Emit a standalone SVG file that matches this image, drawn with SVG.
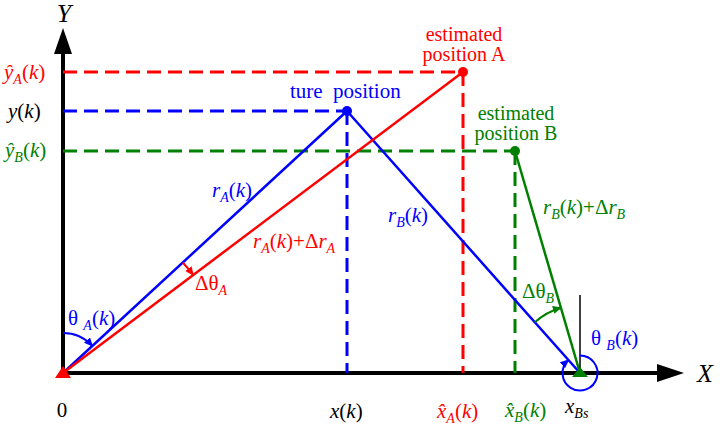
<svg xmlns="http://www.w3.org/2000/svg" width="720" height="429" viewBox="0 0 720 429">
<defs>
<marker id="mb" markerUnits="userSpaceOnUse" markerWidth="9" markerHeight="8" refX="8" refY="4" orient="auto"><path d="M0,0 L9,4 L0,8 z" fill="#0000ff"/></marker>
<marker id="mr" markerUnits="userSpaceOnUse" markerWidth="9" markerHeight="8" refX="8" refY="4" orient="auto"><path d="M0,0 L9,4 L0,8 z" fill="#ff0000"/></marker>
<marker id="mg" markerUnits="userSpaceOnUse" markerWidth="9" markerHeight="8" refX="8" refY="4" orient="auto"><path d="M0,0 L9,4 L0,8 z" fill="#008000"/></marker>
</defs>
<rect width="720" height="429" fill="#fff"/>

<g id="axes">
<line x1="63" y1="375" x2="63" y2="52" stroke="#000" stroke-width="4"/>
<polygon points="63,28 54,54 72,54" fill="#000"/>
<line x1="61" y1="373" x2="660" y2="373" stroke="#000" stroke-width="4"/>
<polygon points="684,373 657,364 657,382" fill="#000"/>
<text font-family="Liberation Serif" font-size="26" font-style="italic" fill="#000" x="64" y="22" text-anchor="middle">Y</text>
<text font-family="Liberation Serif" font-size="26" font-style="italic" fill="#000" x="697" y="382">X</text>
<text font-family="Liberation Serif" font-size="21" fill="#000" x="62" y="417" text-anchor="middle">0</text>
</g>

<g id="connectors" fill="none">
<g stroke-width="3" stroke-dasharray="14 7">
<line stroke="#ff0000" x1="63" y1="72" x2="463" y2="72"/>
<line stroke="#0000ff" x1="63" y1="111" x2="347" y2="111"/>
<line stroke="#008000" x1="63" y1="151" x2="515" y2="151"/>
<line stroke="#0000ff" x1="347" y1="111" x2="347" y2="373"/>
<line stroke="#ff0000" x1="463" y1="72" x2="463" y2="373"/>
<line stroke="#008000" x1="515" y1="151" x2="515" y2="373"/>
</g>
<g stroke-width="2.5">
<line stroke="#0000ff" x1="63" y1="373" x2="347" y2="111"/>
<line stroke="#0000ff" x1="347" y1="111" x2="580" y2="373"/>
<line stroke="#ff0000" x1="63" y1="373" x2="463" y2="72"/>
<line stroke="#008000" x1="515" y1="151" x2="580" y2="373"/>
</g>
<line x1="580" y1="295" x2="580" y2="373" stroke="#000" stroke-width="1.5"/>
<g stroke-width="2">
<path stroke="#0000ff" d="M63,333 A40,40 0 0,1 92.4,345.9" marker-end="url(#mb)"/>
<path stroke="#ff0000" d="M182.8,262.5 A163,163 0 0,1 193.2,275" marker-end="url(#mr)"/>
<path stroke="#008000" d="M534.8,322.2 A68,68 0 0,1 560.9,307.7" marker-end="url(#mg)"/>
<path stroke="#0000ff" d="M580,355.5 A17.5,17.5 0 1,1 568.4,359.9" marker-end="url(#mb)"/>
</g>
</g>

<g id="origin">
<polygon points="55,378 71,378 63,366" fill="#ff0000"/>
</g>

<g id="true-position">
<circle cx="347" cy="111" r="5" fill="#0000ff"/>
<text font-family="Liberation Serif" font-size="21" fill="#0000ff" x="290" y="98">ture</text>
<text font-family="Liberation Serif" font-size="21" fill="#0000ff" x="333" y="98">position</text>
</g>

<g id="estimated-A">
<circle cx="463" cy="72" r="5" fill="#ff0000"/>
<text font-family="Liberation Serif" font-size="20" fill="#ff0000" x="464" y="41" text-anchor="middle">estimated</text>
<text font-family="Liberation Serif" font-size="20" fill="#ff0000" x="464" y="61" text-anchor="middle">position A</text>
</g>

<g id="estimated-B">
<circle cx="515" cy="151" r="5" fill="#008000"/>
<text font-family="Liberation Serif" font-size="20" fill="#008000" x="516" y="120" text-anchor="middle">estimated</text>
<text font-family="Liberation Serif" font-size="20" fill="#008000" x="516" y="140" text-anchor="middle">position B</text>
</g>

<g id="station-B">
<polygon points="572,377 588,377 580,367" fill="#008000"/>
<text font-family="Liberation Serif" font-size="21" font-style="italic" fill="#000" x="565" y="413">x<tspan font-size="14" dy="5">Bs</tspan></text>
</g>

<g id="labels">
<text font-family="Liberation Serif" font-size="21" fill="#ff0000" x="4" y="79"><tspan font-style="italic">&#375;</tspan><tspan font-size="14" font-style="italic" dy="5">A</tspan><tspan dy="-5">(</tspan><tspan font-style="italic">k</tspan>)</text>
<text font-family="Liberation Serif" font-size="21" fill="#000" x="8" y="118"><tspan font-style="italic">y</tspan>(<tspan font-style="italic">k</tspan>)</text>
<text font-family="Liberation Serif" font-size="21" fill="#008000" x="5" y="157"><tspan font-style="italic">&#375;</tspan><tspan font-size="14" font-style="italic" dy="5">B</tspan><tspan dy="-5">(</tspan><tspan font-style="italic">k</tspan>)</text>
<text font-family="Liberation Serif" font-size="21" fill="#0000ff" x="212" y="197"><tspan font-style="italic">r</tspan><tspan font-size="14" font-style="italic" dy="5">A</tspan><tspan dy="-5">(</tspan><tspan font-style="italic">k</tspan>)</text>
<text font-family="Liberation Serif" font-size="21" fill="#ff0000" x="253" y="248"><tspan font-style="italic">r</tspan><tspan font-size="14" font-style="italic" dy="5">A</tspan><tspan dy="-5">(</tspan><tspan font-style="italic">k</tspan>)+&#916;<tspan font-style="italic">r</tspan><tspan font-size="14" font-style="italic" dy="5">A</tspan></text>
<text font-family="Liberation Serif" font-size="21" fill="#0000ff" x="388" y="222"><tspan font-style="italic">r</tspan><tspan font-size="14" font-style="italic" dy="5">B</tspan><tspan dy="-5">(</tspan><tspan font-style="italic">k</tspan>)</text>
<text font-family="Liberation Serif" font-size="21" fill="#008000" x="543" y="214"><tspan font-style="italic">r</tspan><tspan font-size="14" font-style="italic" dy="5">B</tspan><tspan dy="-5">(</tspan><tspan font-style="italic">k</tspan>)+&#916;<tspan font-style="italic">r</tspan><tspan font-size="14" font-style="italic" dy="5">B</tspan></text>
<text font-family="Liberation Serif" font-size="21" fill="#ff0000" x="195" y="290">&#916;&#952;<tspan font-size="14" font-style="italic" dy="5">A</tspan></text>
<text font-family="Liberation Serif" font-size="21" fill="#0000ff" x="68" y="325">&#952; <tspan font-size="14" font-style="italic" dy="5">A</tspan><tspan dy="-5">(</tspan><tspan font-style="italic">k</tspan>)</text>
<text font-family="Liberation Serif" font-size="21" fill="#008000" x="522" y="298">&#916;&#952;<tspan font-size="14" font-style="italic" dy="5">B</tspan></text>
<text font-family="Liberation Serif" font-size="21" fill="#0000ff" x="591" y="345">&#952; <tspan font-size="14" font-style="italic" dy="5">B</tspan><tspan dy="-5">(</tspan><tspan font-style="italic">k</tspan>)</text>
<text font-family="Liberation Serif" font-size="21" fill="#000" x="330" y="418"><tspan font-style="italic">x</tspan>(<tspan font-style="italic">k</tspan>)</text>
<text font-family="Liberation Serif" font-size="21" fill="#ff0000" x="437" y="418"><tspan font-style="italic">x&#770;</tspan><tspan font-size="14" font-style="italic" dy="5">A</tspan><tspan dy="-5">(</tspan><tspan font-style="italic">k</tspan>)</text>
<text font-family="Liberation Serif" font-size="21" fill="#008000" x="505" y="417"><tspan font-style="italic">x&#770;</tspan><tspan font-size="14" font-style="italic" dy="5">B</tspan><tspan dy="-5">(</tspan><tspan font-style="italic">k</tspan>)</text>
</g>
</svg>
